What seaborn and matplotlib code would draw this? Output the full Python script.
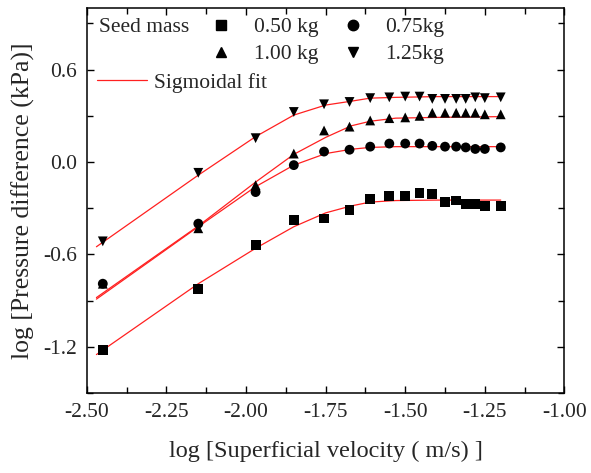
import numpy as np
import pandas as pd
import matplotlib
matplotlib.use("Agg")
import matplotlib.pyplot as plt
from matplotlib.lines import Line2D
from matplotlib.ticker import MultipleLocator, FormatStrFormatter
import seaborn as sns

# ---- data ----
log_velocity = [-2.45, -2.15, -1.97, -1.85, -1.755, -1.675, -1.61, -1.55, -1.50,
                -1.455, -1.415, -1.375, -1.34, -1.31, -1.28, -1.25, -1.20]
dp_050 = [-1.22, -0.825, -0.54, -0.377, -0.367, -0.31, -0.24, -0.22, -0.22,
          -0.20, -0.21, -0.26, -0.25, -0.27, -0.27, -0.285, -0.285]
dp_075 = [-0.79, -0.40, -0.195, -0.02, 0.068, 0.08, 0.10, 0.12, 0.12,
          0.12, 0.105, 0.10, 0.10, 0.095, 0.085, 0.085, 0.095]
dp_100 = [-0.79, -0.43, -0.15, 0.055, 0.205, 0.23, 0.27, 0.285, 0.29,
          0.30, 0.32, 0.32, 0.32, 0.32, 0.32, 0.31, 0.31]
dp_125 = [-0.515, -0.07, 0.155, 0.325, 0.375, 0.39, 0.415, 0.42, 0.425,
          0.425, 0.41, 0.41, 0.41, 0.41, 0.42, 0.415, 0.42]

fit_x = [-2.47, -2.15, -1.97, -1.85, -1.75, -1.67, -1.61, -1.53, -1.40, -1.20]
fit_050 = [-1.25, -0.79, -0.56, -0.42, -0.33, -0.285, -0.26, -0.25, -0.247, -0.247]
fit_075 = [-0.89, -0.42, -0.16, -0.02, 0.055, 0.083, 0.095, 0.10, 0.10, 0.10]
fit_100 = [-0.88, -0.415, -0.13, 0.05, 0.16, 0.235, 0.265, 0.285, 0.29, 0.295]
fit_125 = [-0.55, -0.085, 0.165, 0.305, 0.37, 0.395, 0.415, 0.42, 0.425, 0.425]

labels = ["0.50 kg", "0.75kg", "1.00 kg", "1.25kg"]
markers = ["s", "o", "^", "v"]
series = [dp_050, dp_075, dp_100, dp_125]
fits = [fit_050, fit_075, fit_100, fit_125]

pts = pd.concat([pd.DataFrame({"x": log_velocity, "y": s, "mass": l})
                 for s, l in zip(series, labels)], ignore_index=True)
fitdf = pd.concat([pd.DataFrame({"x": fit_x, "y": f, "mass": l})
                   for f, l in zip(fits, labels)], ignore_index=True)

sns.set_theme(style="ticks")
plt.rcParams["font.family"] = ["Liberation Serif", "DejaVu Serif"]

fig = plt.figure(figsize=(5.91, 4.73), dpi=100)
ax = fig.add_axes([0.147, 0.169, 0.808, 0.814])

sns.lineplot(data=fitdf, x="x", y="y", units="mass", estimator=None,
             color="#ff2020", linewidth=0.9, sort=False, ax=ax, legend=False)
sns.scatterplot(data=pts, x="x", y="y", style="mass", markers=dict(zip(labels, markers)),
                color="black", s=50, linewidth=0, ax=ax, legend=False, zorder=3)

ax.set_xlim(-2.5, -1.0)
ax.set_ylim(-1.5, 1.0)
ax.xaxis.set_major_locator(MultipleLocator(0.25))
ax.xaxis.set_minor_locator(MultipleLocator(0.125))
ax.yaxis.set_major_locator(MultipleLocator(0.6))
ax.yaxis.set_minor_locator(MultipleLocator(0.3))
ax.xaxis.set_major_formatter(FormatStrFormatter("%.2f"))
ax.yaxis.set_major_formatter(FormatStrFormatter("%.1f"))
ax.tick_params(which="both", direction="in", top=True, right=True, labelsize=15.5,
               color="black", width=1)
ax.tick_params(which="major", length=5, pad=7)
ax.tick_params(which="minor", length=4)
for sp in ax.spines.values():
    sp.set_visible(True)
    sp.set_color("black")
    sp.set_linewidth(1.1)

ax.set_xlabel("log [Superficial velocity ( m/s) ]", fontsize=17.5, labelpad=14)
ax.set_ylabel("log [Pressure difference (kPa)]", fontsize=18.5, labelpad=6)

# legend (column-wise fill -> order so rows read 0.50/0.75, 1.00/1.25)
order = [0, 2, 1, 3]
handles = [Line2D([], [], linestyle="none", marker=markers[i], color="black",
                  markersize=7.5) for i in order]
leg1 = ax.legend(handles, [labels[i] for i in order], ncol=2, frameon=False,
                 fontsize=15.5, loc="upper left", bbox_to_anchor=(0.241, 0.999),
                 handlelength=1.0, handletextpad=1.0, columnspacing=1.1,
                 labelspacing=0.33, borderaxespad=0)
ax.add_artist(leg1)
ax.text(0.025, 0.95, "Seed mass", transform=ax.transAxes, fontsize=15.5,
        va="center", ha="left")
fit_handle = Line2D([], [], color="#ff2020", linewidth=0.9)
ax.legend([fit_handle], ["Sigmoidal fit"], frameon=False, fontsize=15.5,
          loc="upper left", bbox_to_anchor=(0.003, 0.854), handlelength=2.33,
          handletextpad=0.3, borderaxespad=0)

fig.savefig("out.png", dpi=100)
